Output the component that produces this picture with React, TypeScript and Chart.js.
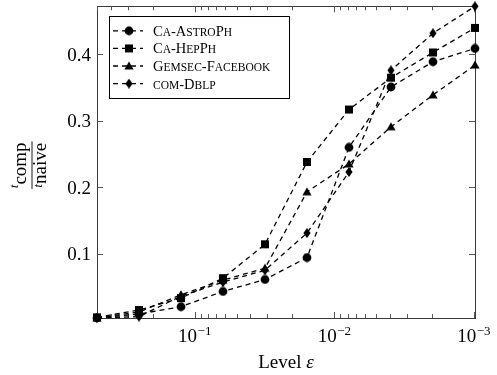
import { useEffect, useRef } from "react";
import { Chart, registerables } from "chart.js";

Chart.register(...registerables);

// Level ε values (halving from 1/2 down to 1/1024)
const levels = [0.5, 0.25, 0.125, 0.0625, 0.03125, 0.015625, 0.0078125, 0.00390625, 0.001953125, 0.0009765625];

// Ratio t_comp / t_naive per data set
const astroPh = [0.003, 0.009, 0.02, 0.043, 0.061, 0.094, 0.26, 0.351, 0.389, 0.409];
const hepPh = [0.004, 0.015, 0.033, 0.063, 0.114, 0.238, 0.317, 0.365, 0.403, 0.44];
const facebook = [0.003, 0.012, 0.038, 0.06, 0.078, 0.193, 0.235, 0.291, 0.339, 0.384];
const dblp = [0.003, 0.005, 0.036, 0.057, 0.075, 0.131, 0.223, 0.376, 0.432, 0.4725];

const seriesNames = ["Ca-AstroPh", "Ca-HepPh", "Gemsec-Facebook", "com-Dblp"];
const seriesMarkers = ["circle", "square", "triangle", "diamond"];

const xTickExponents = [-1, -2, -3];
const yTicks = [0.1, 0.2, 0.3, 0.4];

const X_MIN = 0.0009765625;
const X_MAX = 0.5;
const Y_MIN = 0.003;
const Y_MAX = 0.4725;

const SERIF = '"Liberation Serif", "DejaVu Serif", serif';

function makeMarker(kind: string): HTMLCanvasElement {
  const c = document.createElement("canvas");
  const w = kind === "diamond" ? 8 : 10;
  const h = 10;
  c.width = w;
  c.height = h;
  const g = c.getContext("2d")!;
  g.fillStyle = "#000";
  g.beginPath();
  if (kind === "circle") {
    g.arc(5, 5, 4.4, 0, Math.PI * 2);
  } else if (kind === "square") {
    g.rect(1, 1, 8, 8);
  } else if (kind === "triangle") {
    g.moveTo(5, 0.5);
    g.lineTo(9.6, 8.6);
    g.lineTo(0.4, 8.6);
    g.closePath();
  } else {
    g.moveTo(4, 0);
    g.lineTo(7.6, 5);
    g.lineTo(4, 10);
    g.lineTo(0.4, 5);
    g.closePath();
  }
  g.fill();
  return c;
}

// Draws a label in small caps: capitals full size, lower case as reduced capitals
function drawSmallCaps(ctx: CanvasRenderingContext2D, text: string, x: number, y: number, big: number, small: number) {
  let cx = x;
  let i = 0;
  while (i < text.length) {
    const ch = text[i];
    const isLower = ch !== ch.toUpperCase();
    let j = i;
    while (j < text.length && (text[j] !== text[j].toUpperCase()) === isLower) j++;
    const seg = text.slice(i, j).toUpperCase();
    ctx.font = `${isLower ? small : big}px ${SERIF}`;
    ctx.fillText(seg, cx, y);
    cx += ctx.measureText(seg).width;
    i = j;
  }
}

export default function App() {
  const canvasRef = useRef<HTMLCanvasElement | null>(null);

  useEffect(() => {
    const canvas = canvasRef.current;
    if (!canvas) return;
    const markers = seriesMarkers.map(makeMarker);
    const values = [astroPh, hepPh, facebook, dblp];

    const axesPlugin = {
      id: "pgfAxes",
      beforeDatasetsDraw(chart: any) {
        const ctx: CanvasRenderingContext2D = chart.ctx;
        const { left, right, top, bottom } = chart.chartArea;
        const xs = chart.scales.x;
        const ys = chart.scales.y;
        ctx.save();
        ctx.strokeStyle = "#3a3a3a";
        ctx.lineWidth = 1;
        ctx.strokeRect(Math.round(left) + 0.5, Math.round(top) + 0.5, Math.round(right - left), Math.round(bottom - top));

        ctx.strokeStyle = "#555";
        ctx.beginPath();
        // x major ticks
        for (const e of xTickExponents) {
          const px = Math.round(xs.getPixelForValue(Math.pow(10, e))) + 0.5;
          ctx.moveTo(px, bottom);
          ctx.lineTo(px, bottom - 6);
          ctx.moveTo(px, top);
          ctx.lineTo(px, top + 6);
        }
        // x minor ticks
        for (let d = -4; d <= 0; d++) {
          for (let k = 2; k <= 9; k++) {
            const v = k * Math.pow(10, d);
            if (v < X_MIN || v > X_MAX) continue;
            const px = Math.round(xs.getPixelForValue(v)) + 0.5;
            ctx.moveTo(px, bottom);
            ctx.lineTo(px, bottom - 4);
            ctx.moveTo(px, top);
            ctx.lineTo(px, top + 4);
          }
        }
        // y ticks
        for (const t of yTicks) {
          const py = Math.round(ys.getPixelForValue(t)) + 0.5;
          ctx.moveTo(left, py);
          ctx.lineTo(left + 6, py);
          ctx.moveTo(right, py);
          ctx.lineTo(right - 6, py);
        }
        ctx.stroke();

        // tick labels
        ctx.fillStyle = "#000";
        ctx.textBaseline = "alphabetic";
        ctx.font = `19px ${SERIF}`;
        ctx.textAlign = "right";
        for (const t of yTicks) {
          const py = ys.getPixelForValue(t);
          ctx.fillText(t.toFixed(1), left - 6, py + 6.5);
        }
        ctx.textAlign = "left";
        for (const e of xTickExponents) {
          const px = xs.getPixelForValue(Math.pow(10, e));
          ctx.font = `19px ${SERIF}`;
          const wBase = ctx.measureText("10").width;
          ctx.font = `13px ${SERIF}`;
          const sup = "\u2212" + String(-e);
          const wSup = ctx.measureText(sup).width;
          const x0 = px - (wBase + wSup) / 2;
          ctx.font = `19px ${SERIF}`;
          ctx.fillText("10", x0, bottom + 24);
          ctx.font = `13px ${SERIF}`;
          ctx.fillText(sup, x0 + wBase + 0.5, bottom + 17);
        }

        // x axis title
        const cxTitle = (left + right) / 2;
        ctx.font = `19px ${SERIF}`;
        const wLevel = ctx.measureText("Level ").width;
        ctx.font = `italic 19px ${SERIF}`;
        const wEps = ctx.measureText("\u03b5").width;
        const xt0 = cxTitle - (wLevel + wEps) / 2;
        ctx.font = `19px ${SERIF}`;
        ctx.fillText("Level ", xt0, bottom + 50);
        ctx.font = `italic 19px ${SERIF}`;
        ctx.fillText("\u03b5", xt0 + wLevel, bottom + 50);

        // y axis title: t_comp / t_naive as a fraction
        ctx.save();
        ctx.translate(32, (top + bottom) / 2 + 3);
        ctx.rotate(-Math.PI / 2);
        ctx.font = `italic 12px ${SERIF}`;
        const wt = ctx.measureText("t").width;
        ctx.font = `19px ${SERIF}`;
        const wComp = ctx.measureText("comp").width;
        const wNaive = ctx.measureText("naive").width;
        const wNum = wt + wComp;
        const wDen = wt + wNaive;
        const barW = Math.max(wNum, wDen) + 2;
        ctx.strokeStyle = "#000";
        ctx.lineWidth = 0.9;
        ctx.beginPath();
        ctx.moveTo(-barW / 2, 0);
        ctx.lineTo(barW / 2, 0);
        ctx.stroke();
        let nx = -wNum / 2;
        ctx.font = `italic 12px ${SERIF}`;
        ctx.fillText("t", nx, -14);
        ctx.font = `19px ${SERIF}`;
        ctx.fillText("comp", nx + wt, -6);
        let dx = -wDen / 2;
        ctx.font = `italic 12px ${SERIF}`;
        ctx.fillText("t", dx, 10);
        ctx.font = `19px ${SERIF}`;
        ctx.fillText("naive", dx + wt, 14);
        ctx.restore();

        ctx.restore();
      },
      afterDatasetsDraw(chart: any) {
        const ctx: CanvasRenderingContext2D = chart.ctx;
        const { left, top } = chart.chartArea;
        const bx = left + 12;
        const by = top + 10;
        const bw = 180;
        const bh = 82;
        ctx.save();
        ctx.fillStyle = "#fff";
        ctx.fillRect(bx, by, bw, bh);
        ctx.strokeStyle = "#000";
        ctx.lineWidth = 1;
        ctx.strokeRect(Math.round(bx) + 0.5, Math.round(by) + 0.5, bw, bh);
        chart.data.datasets.forEach((ds: any, i: number) => {
          const cy = by + 14.5 + i * 17.6;
          ctx.strokeStyle = "#000";
          ctx.lineWidth = 1.3;
          ctx.setLineDash([5, 4]);
          ctx.beginPath();
          ctx.moveTo(bx + 4, cy);
          ctx.lineTo(bx + 34, cy);
          ctx.stroke();
          ctx.setLineDash([]);
          const m: HTMLCanvasElement = ds.pointStyle;
          ctx.drawImage(m, bx + 20 - m.width / 2, cy - m.height / 2);
          ctx.fillStyle = "#000";
          ctx.textAlign = "left";
          drawSmallCaps(ctx, ds.label, bx + 44, cy + 5, 14.5, 11.5);
        });
        ctx.restore();
      },
    };

    const chart = new Chart(canvas, {
      type: "line",
      data: {
        datasets: seriesNames.map((name, i) => ({
          label: name,
          data: levels.map((lv, j) => ({ x: lv, y: values[i][j] })),
          borderColor: "#000",
          backgroundColor: "#000",
          borderWidth: 1.3,
          borderDash: [5, 4],
          pointStyle: markers[i],
          pointRadius: 5,
          pointHoverRadius: 5,
          tension: 0,
          clip: false,
        })),
      },
      options: {
        responsive: false,
        animation: false,
        events: [],
        layout: { padding: { top: 5, right: 22, left: 0, bottom: 0 } },
        plugins: { legend: { display: false }, tooltip: { enabled: false } },
        scales: {
          x: {
            type: "logarithmic",
            reverse: true,
            min: X_MIN,
            max: X_MAX,
            grid: { display: false },
            border: { display: false },
            ticks: { display: false },
            afterFit(scale: any) {
              scale.height = 57;
            },
          },
          y: {
            type: "linear",
            min: Y_MIN,
            max: Y_MAX,
            grid: { display: false },
            border: { display: false },
            ticks: { display: false },
            afterFit(scale: any) {
              scale.width = 97;
            },
          },
        },
      },
      plugins: [axesPlugin],
    } as any);

    return () => chart.destroy();
  }, []);

  return (
    <div style={{ position: "absolute", left: 0, top: 0, width: 497, height: 375, background: "#fff" }}>
      <canvas ref={canvasRef} width={497} height={375} style={{ display: "block" }} />
    </div>
  );
}
